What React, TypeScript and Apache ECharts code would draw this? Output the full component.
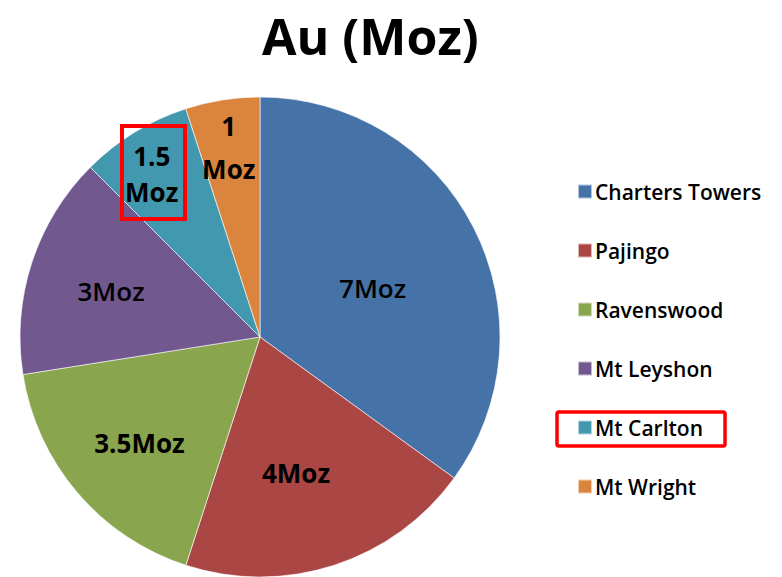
import React, { useEffect, useRef } from "react";
import * as echarts from "echarts";

const categories = ["Charters Towers", "Pajingo", "Ravenswood", "Mt Leyshon", "Mt Carlton", "Mt Wright"];
const values = [7, 4, 3.5, 3, 1.5, 1];
const labelTexts = ["7Moz", "4Moz", "3.5Moz", "3Moz", "1.5\nMoz", "1\nMoz"];
const colors = ["#4572A7", "#AA4643", "#89A54E", "#71588F", "#4198AF", "#DB843D"];
const labelWeights = ["600", "bold", "bold", "600", "bold", "bold"];
const labelLineHeights = [30, 30, 30, 30, 36, 43];
const labelNudges: [number, number][] = [[3, 7], [-2, 19], [-27, 26], [-32, -8], [-44, -58], [-12, -68]];

export default function App() {
  const ref = useRef<HTMLDivElement>(null);
  useEffect(() => {
    if (!ref.current) return;
    const chart = echarts.init(ref.current, undefined, { renderer: "svg" });
    const font = "'Open Sans', 'DejaVu Sans', sans-serif";
    chart.setOption({
      animation: false,
      backgroundColor: "#ffffff",
      color: colors,
      title: {
        text: "Au (Moz)",
        left: 262,
        top: 4,
        padding: 0,
        textStyle: { fontFamily: font, fontSize: 50, fontWeight: "bold", color: "#000", lineHeight: 64 },
      },
      legend: {
        orient: "vertical",
        left: 572,
        top: 176,
        itemWidth: 14,
        itemHeight: 14,
        itemGap: 38,
        icon: "rect",
        data: categories,
        textStyle: { fontFamily: font, fontSize: 21, fontWeight: 600, color: "#000", padding: [0, 0, 0, -2] },
      },
      graphic: [
        {
          type: "rect",
          shape: { x: 122, y: 126, width: 63, height: 93 },
          style: { fill: "none", stroke: "#ff0000", lineWidth: 4 },
          z: 100,
        },
        {
          type: "rect",
          shape: { x: 557, y: 412, width: 168, height: 34, r: 2 },
          style: { fill: "none", stroke: "#ff0000", lineWidth: 3.5 },
          z: 100,
        },
      ],
      series: [
        {
          type: "pie",
          center: [260, 337],
          radius: 240,
          startAngle: 90,
          clockwise: true,
          avoidLabelOverlap: false,
          itemStyle: { borderColor: "rgba(255,255,255,0.6)", borderWidth: 1 },
          label: {
            show: true,
            position: "inside",
            fontFamily: font,
            fontSize: 26,
            color: "#000",
          },
          labelLine: { show: false },
          labelLayout: (params: any) => {
            const n = labelNudges[params.dataIndex] || [0, 0];
            return { dx: n[0], dy: n[1] };
          },
          emphasis: { disabled: true },
          data: categories.map((name, i) => ({
            name,
            value: values[i],
            label: {
              formatter: labelTexts[i],
              fontWeight: labelWeights[i],
              lineHeight: labelLineHeights[i],
            },
          })),
        },
      ],
    });
    return () => chart.dispose();
  }, []);
  return <div ref={ref} style={{ position: "fixed", left: 0, top: 0, width: 782, height: 577 }} />;
}
